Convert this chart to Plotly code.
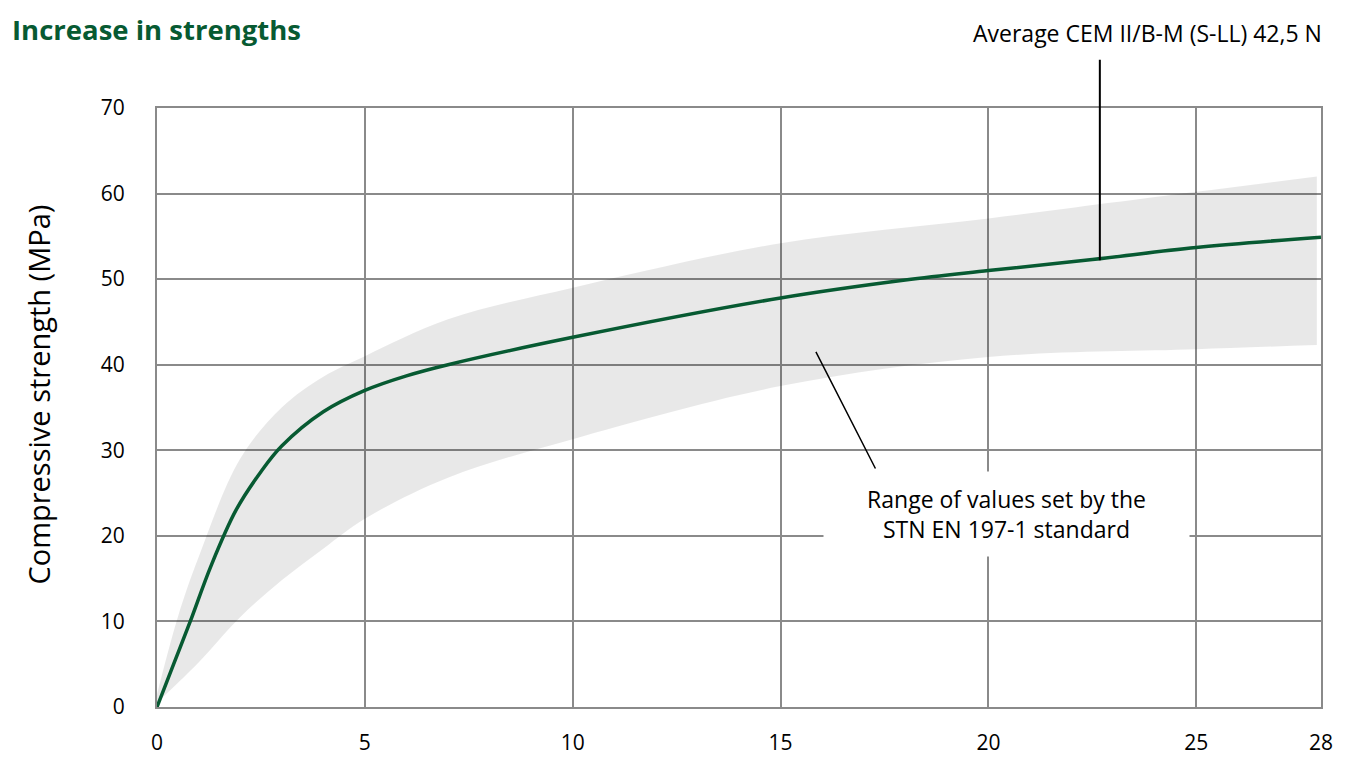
import plotly.graph_objects as go

# Average CEM II/B-M (S-LL) 42,5 N curve
avg_days = [0, 0.4, 0.8, 1.3, 1.9, 2.5, 3.0, 4.0, 5.0, 6.0, 7.0, 10.0, 15.0, 18.0, 20.0, 22.5, 25.0, 28.0]
avg_mpa = [0, 5, 10, 16.5, 23, 27.5, 30.5, 34.5, 37.0, 38.7, 40.0, 43.2, 47.8, 49.9, 51.0, 52.3, 53.7, 54.9]

# Range of values set by STN EN 197-1
band_days = [0, 0.5, 1.0, 2.0, 3.0, 4.0, 5.0, 7.0, 10.0, 15.0, 20.0, 25.0, 27.9]
band_upper = [1.5, 10.5, 17.5, 29.0, 35.0, 38.6, 41.0, 45.3, 49.0, 54.2, 57.1, 60.2, 62.0]
band_lower = [0.5, 2.8, 5.2, 10.5, 14.8, 18.5, 22.0, 26.8, 31.3, 37.5, 40.9, 41.8, 42.3]

x_ticks = [0, 5, 10, 15, 20, 25, 28]
y_ticks = [0, 10, 20, 30, 40, 50, 60, 70]

GREEN = "#075a32"
GRID = "#8a8a8a"
FONT = "Open Sans"

fig = go.Figure()
fig.add_trace(go.Scatter(x=band_days, y=band_lower, mode="lines", line=dict(width=0, shape="spline"),
                         showlegend=False, hoverinfo="skip"))
fig.add_trace(go.Scatter(x=band_days, y=band_upper, mode="lines", line=dict(width=0, shape="spline"),
                         fill="tonexty", fillcolor="rgba(0,0,0,0.09)", showlegend=False, hoverinfo="skip"))
fig.add_trace(go.Scatter(x=avg_days, y=avg_mpa, mode="lines", line=dict(color=GREEN, width=3.5, shape="spline"),
                         showlegend=False))

fig.update_layout(
    width=1345, height=773,
    margin=dict(l=157, r=12, t=108, b=66),
    paper_bgcolor="white", plot_bgcolor="white",
    font=dict(family=FONT, size=22, color="black"),
    title=dict(text="<b>Increase in strengths</b>", x=12/1345, xanchor="left", y=1-30/773, yanchor="middle",
               font=dict(family=FONT, size=27.5, color=GREEN)),
    xaxis=dict(range=[0, 28], tickvals=x_ticks, showgrid=True, gridcolor=GRID, gridwidth=2,
               showline=True, linecolor=GRID, linewidth=2, mirror=True, zeroline=False,
               ticks="", ticklabelstandoff=16, ticklabeloverflow="allow", tickfont=dict(size=21)),
    yaxis=dict(range=[0, 70], tickvals=y_ticks, showgrid=True, gridcolor=GRID, gridwidth=2,
               showline=True, linecolor=GRID, linewidth=2, mirror=True, zeroline=False,
               ticks="", ticklabelstandoff=26, tickfont=dict(size=21)),
)

fig.add_annotation(text="Compressive strength (MPa)", xref="paper", yref="paper",
                   x=-0.1026, y=(707-395)/599, textangle=-90, showarrow=False,
                   font=dict(size=29), xanchor="center", yanchor="middle")

fig.add_annotation(text="Average CEM II/B-M (S-LL) 42,5 N", xref="paper", yref="paper",
                   x=1.0026, y=(707-33)/599, xanchor="right", yanchor="middle",
                   showarrow=False, font=dict(size=23))

# leader lines
fig.add_annotation(text="", x=22.68, y=52.2, ax=22.68, ay=75.8, xref="x", yref="y", axref="x", ayref="y",
                   showarrow=True, arrowhead=0, arrowwidth=2, arrowcolor="black")
fig.add_annotation(text="", x=15.85, y=41.5, ax=17.3, ay=27.7, xref="x", yref="y", axref="x", ayref="y",
                   showarrow=True, arrowhead=0, arrowwidth=1.5, arrowcolor="black")

fig.add_annotation(text="Range of values set by the<br>STN EN 197-1 standard", xref="x", yref="y",
                   x=(1011-157)/41.8, y=(707-514)/8.557, showarrow=False, bgcolor="white",
                   width=365, height=84, borderpad=0, align="center", font=dict(size=23))

fig.write_html("out.html", config={"displayModeBar": False}, post_script=(
    "document.body.style.margin='0';"
    "document.body.style.overflow='hidden';"
    "document.documentElement.style.overflow='hidden';"
    "document.querySelectorAll('.plotly-graph-div, .plot-container, .svg-container')"
    ".forEach(function(e){e.style.overflow='hidden';});"))
